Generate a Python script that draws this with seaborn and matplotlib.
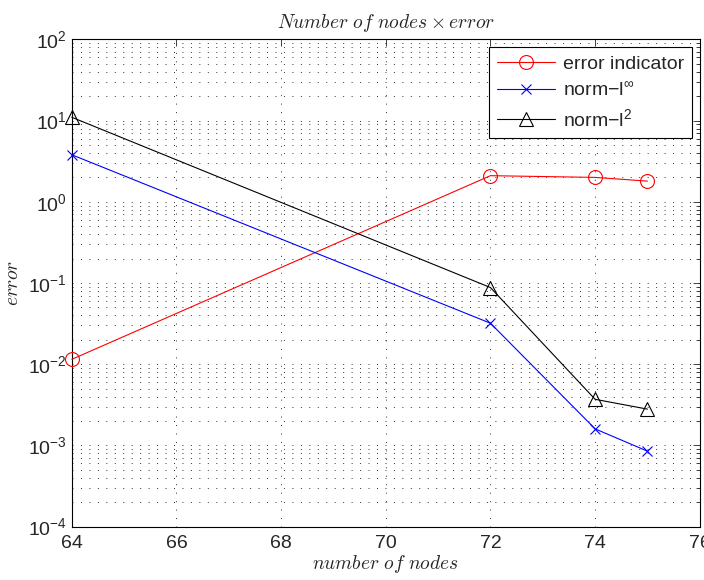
import matplotlib
matplotlib.use("Agg")
import matplotlib.pyplot as plt
import numpy as np
import pandas as pd
import seaborn as sns
from matplotlib.ticker import LogLocator, FixedLocator

nodes = [64, 72, 74, 75]
error_indicator = [0.0115, 2.1, 2.0, 1.8]
norm_inf = [3.8, 0.032, 0.0016, 0.00085]
norm_l2 = [11.0, 0.088, 0.0037, 0.0028]

series_labels = ["error indicator", r"norm$-$l$^{\infty}$", r"norm$-$l$^{2}$"]
series_colors = ["red", "blue", "black"]
series_markers = ["o", "x", "^"]
series_msize = [10, 7, 10]

sns.set_style("white")
plt.rcParams["font.family"] = ["Liberation Sans", "DejaVu Sans"]
plt.rcParams["mathtext.fontset"] = "custom"
plt.rcParams["mathtext.rm"] = "Liberation Sans"
plt.rcParams["mathtext.it"] = "Liberation Sans:italic"
plt.rcParams["mathtext.bf"] = "Liberation Sans:bold"

fig = plt.figure(figsize=(7.04, 5.8), dpi=100)
ax = fig.add_axes([0.102, 0.092, 0.892, 0.84])

for vals, lab, col, mk, ms in zip([error_indicator, norm_inf, norm_l2],
                                  series_labels, series_colors, series_markers,
                                  series_msize):
    df = pd.DataFrame({"nodes": nodes, "err": vals})
    sns.lineplot(data=df, x="nodes", y="err", ax=ax, color=col, marker=mk,
                 markersize=ms, markerfacecolor="none", markeredgecolor=col,
                 markeredgewidth=0.8, linewidth=0.8, label=lab, clip_on=False,
                 zorder=3)

ax.set_yscale("log")
ax.set_xlim(64, 76)
ax.set_ylim(1e-4, 1e2)
ax.xaxis.set_major_locator(FixedLocator(np.arange(64, 77, 2)))
ax.yaxis.set_major_locator(LogLocator(base=10, numticks=10))
ax.yaxis.set_minor_locator(LogLocator(base=10, subs=np.arange(2, 10), numticks=20))

dots = (0, (1, 7.7))
ax.grid(True, which="major", axis="both", color="#333333", linestyle=dots, linewidth=0.7)
ax.grid(True, which="minor", axis="y", color="#333333", linestyle=dots, linewidth=0.7)

ax.tick_params(axis="both", which="both", direction="in", top=True, right=True,
               labelsize=14, length=5, width=0.6)
ax.tick_params(axis="y", which="minor", length=3)
ax.tick_params(axis="x", which="major", pad=6)
for s in ax.spines.values():
    s.set_linewidth(0.8)
    s.set_color("black")

ax.set_title(r"$Number\ of\ nodes \times error$", fontsize=14, math_fontfamily="cm", pad=8)
ax.set_xlabel(r"$number\ of\ nodes$", fontsize=14, math_fontfamily="cm", labelpad=1)
ax.set_ylabel(r"$error$", fontsize=14, math_fontfamily="cm", labelpad=4)

leg = ax.legend(loc="upper right", fontsize=14, frameon=True, fancybox=False,
                edgecolor="black", framealpha=1, borderaxespad=0.4,
                handlelength=3.0, handletextpad=0.4, labelspacing=0.45)
leg.get_frame().set_linewidth(0.8)

fig.savefig("out.png", dpi=100)
